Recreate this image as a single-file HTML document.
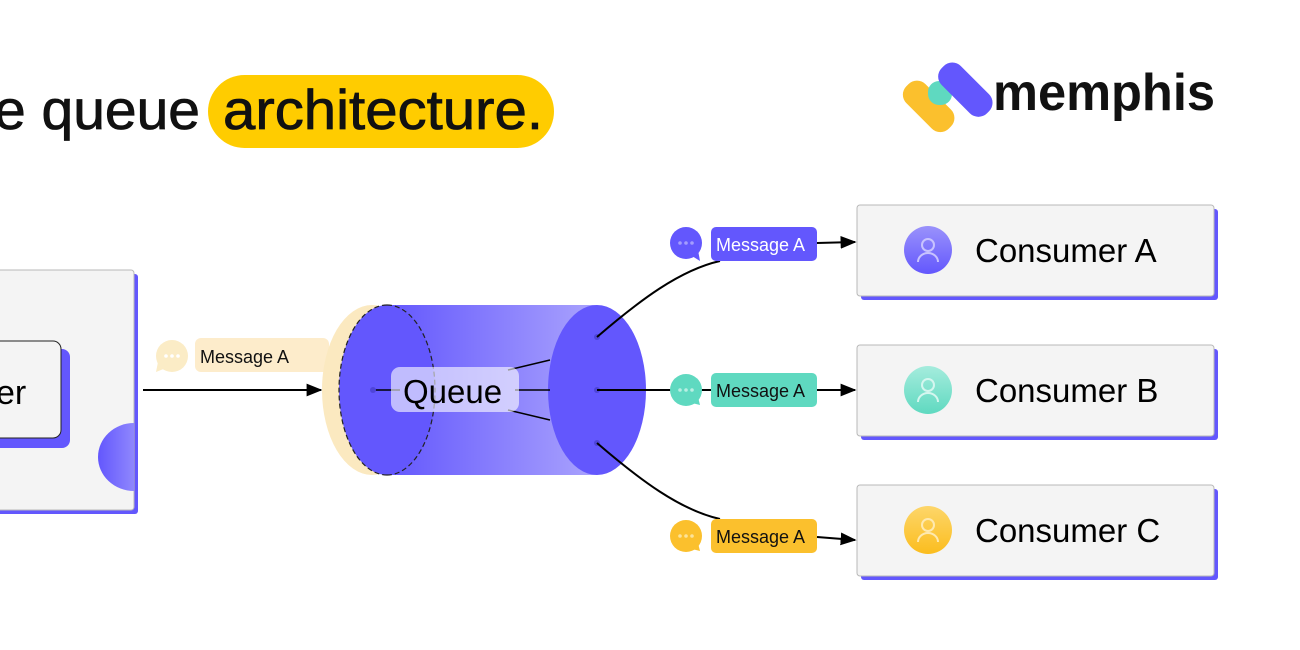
<!DOCTYPE html>
<html><head><meta charset="utf-8"><style>
html,body{margin:0;padding:0;background:#fff;}
svg{display:block;font-family:"Liberation Sans",sans-serif;}
</style></head><body>
<svg width="1300" height="650" viewBox="0 0 1300 650" xmlns="http://www.w3.org/2000/svg">
<defs>
<linearGradient id="body" x1="0" x2="1" y1="0" y2="0">
<stop offset="0" stop-color="#6357fd"/><stop offset="1" stop-color="#aaa3fd"/>
</linearGradient>
<linearGradient id="av" x1="0" x2="0" y1="0" y2="1">
<stop offset="0" stop-color="#9a92fb"/><stop offset="1" stop-color="#6357fd"/>
</linearGradient>
<linearGradient id="avb" x1="0" x2="0" y1="0" y2="1">
<stop offset="0" stop-color="#a5ecdd"/><stop offset="1" stop-color="#5fd9c0"/>
</linearGradient>
<linearGradient id="avc" x1="0" x2="0" y1="0" y2="1">
<stop offset="0" stop-color="#fdd66a"/><stop offset="1" stop-color="#fbbd1e"/>
</linearGradient>
<linearGradient id="half" x1="0" x2="1">
<stop offset="0" stop-color="#6357fd"/><stop offset="1" stop-color="#8f87fd"/>
</linearGradient>
<marker id="ar" viewBox="0 0 10 10" refX="9" refY="5" markerWidth="8" markerHeight="8" orient="auto"><path d="M0,1 L10,5 L0,9z" fill="#000"/></marker>
</defs>

<!-- title -->
<text x="-6" y="129" font-size="56" fill="#111" stroke="#111" stroke-width="0.8" textLength="206" lengthAdjust="spacingAndGlyphs">e queue</text>
<rect x="208" y="75" width="346" height="73" rx="36.5" fill="#ffcc00"/>
<text x="223" y="129" font-size="56" fill="#111" stroke="#111" stroke-width="0.8" textLength="320" lengthAdjust="spacingAndGlyphs">architecture.</text>

<!-- logo -->
<g>
<rect x="899" y="93" width="60" height="27" rx="12" fill="#fbc02d" transform="rotate(45 929 106)"/>
<rect x="928" y="81" width="24" height="24" rx="11" fill="#5fd9c0"/>
<rect x="933" y="76" width="64" height="27" rx="12" fill="#6357fd" transform="rotate(45 965 90)"/>
</g>
<text x="993" y="110" font-size="52" font-weight="bold" fill="#111" textLength="222" lengthAdjust="spacingAndGlyphs">memphis</text>

<!-- producer -->
<rect x="-10" y="274" width="148" height="240" rx="3" fill="#6357fd"/>
<rect x="-10" y="270" width="144" height="240" rx="3" fill="#f4f4f4" stroke="#b8b8b8"/>
<rect x="-10" y="349" width="80" height="99" rx="8" fill="#6357fd"/>
<rect x="-10" y="341" width="71" height="97" rx="8" fill="#f4f4f4" stroke="#222"/>
<text x="-4" y="404" font-size="34" fill="#000">er</text>
<path d="M134,423 A36,34 0 0 0 134,491 Z" fill="url(#half)"/>

<!-- input arrow -->
<line x1="143" y1="390" x2="321" y2="390" stroke="#000" stroke-width="2" marker-end="url(#ar)"/>
<circle cx="172" cy="356" r="16" fill="#fbecc6"/>
<path d="M158,362 L156,372 L166,368z" fill="#fbecc6"/>
<g fill="#fff"><circle cx="166" cy="356" r="1.8"/><circle cx="172" cy="356" r="1.8"/><circle cx="178" cy="356" r="1.8"/></g>
<rect x="195" y="338" width="134" height="34" rx="6" fill="#fdeccb"/>
<text x="200" y="363" font-size="18" fill="#111">Message A</text>

<!-- cylinder -->
<ellipse cx="372" cy="390" rx="50" ry="85" fill="#fbe9c0"/>
<rect x="387" y="305" width="210" height="170" fill="url(#body)"/>
<ellipse cx="387" cy="390" rx="48" ry="85" fill="#6357fd"/>
<path d="M387,305 A48,85 0 0 0 387,475" fill="none" stroke="#222" stroke-dasharray="5,3" stroke-width="1.2"/>
<path d="M387,305 A48,85 0 0 1 387,475" fill="none" stroke="#222" stroke-dasharray="5,3" stroke-width="1.2"/>
<ellipse cx="597" cy="390" rx="49" ry="85" fill="#6357fd"/>
<line x1="373" y1="390" x2="400" y2="390" stroke="#000" stroke-width="1.5"/>
<path d="M508,370 L550,360" stroke="#000" stroke-width="1.5"/>
<path d="M508,410 L550,420" stroke="#000" stroke-width="1.5"/>
<line x1="515" y1="390" x2="550" y2="390" stroke="#000" stroke-width="1.5"/>
<rect x="391" y="367" width="128" height="45" rx="9" fill="#fff" fill-opacity="0.6"/>
<text x="403" y="403" font-size="33" fill="#000">Queue</text>
<g fill="#4e44d8"><circle cx="373" cy="390" r="3"/><circle cx="597" cy="337" r="3"/><circle cx="597" cy="390" r="3"/><circle cx="597" cy="443" r="3"/></g>

<!-- connectors -->
<path d="M597,337 C640,300 680,270 720,261" fill="none" stroke="#000" stroke-width="2"/>
<line x1="597" y1="390" x2="711" y2="390" stroke="#000" stroke-width="2"/>
<path d="M597,443 C640,480 680,510 720,519" fill="none" stroke="#000" stroke-width="2"/>

<!-- message A (purple) -->
<circle cx="686" cy="243" r="16" fill="#6357fd"/><path d="M692,256 L700,261 L698,250z" fill="#6357fd"/>
<g fill="#a49dfd"><circle cx="680" cy="243" r="1.8"/><circle cx="686" cy="243" r="1.8"/><circle cx="692" cy="243" r="1.8"/></g>
<rect x="711" y="227" width="106" height="34" rx="5" fill="#6357fd"/>
<text x="716" y="251" font-size="18" fill="#fff">Message A</text>
<line x1="817" y1="243" x2="855" y2="242" stroke="#000" stroke-width="2" marker-end="url(#ar)"/>

<!-- message B (teal) -->
<circle cx="686" cy="390" r="16" fill="#5fd9c0"/><path d="M692,403 L700,405 L698,397z" fill="#5fd9c0"/>
<g fill="#b9efe3"><circle cx="680" cy="390" r="1.8"/><circle cx="686" cy="390" r="1.8"/><circle cx="692" cy="390" r="1.8"/></g>
<rect x="711" y="373" width="106" height="34" rx="5" fill="#5fd9c0"/>
<text x="716" y="397" font-size="18" fill="#111">Message A</text>
<line x1="817" y1="390" x2="855" y2="390" stroke="#000" stroke-width="2" marker-end="url(#ar)"/>

<!-- message C (yellow) -->
<circle cx="686" cy="536" r="16" fill="#fbc02d"/><path d="M692,549 L700,551 L698,543z" fill="#fbc02d"/>
<g fill="#fde39a"><circle cx="680" cy="536" r="1.8"/><circle cx="686" cy="536" r="1.8"/><circle cx="692" cy="536" r="1.8"/></g>
<rect x="711" y="519" width="106" height="34" rx="5" fill="#fbc02d"/>
<text x="716" y="543" font-size="18" fill="#111">Message A</text>
<line x1="817" y1="537" x2="855" y2="540" stroke="#000" stroke-width="2" marker-end="url(#ar)"/>

<!-- consumers -->
<g>
<rect x="861" y="209" width="357" height="91" rx="3" fill="#6357fd"/>
<rect x="857" y="205" width="357" height="91" rx="3" fill="#f4f4f4" stroke="#b8b8b8"/>
<circle cx="928" cy="250" r="24" fill="url(#av)"/>
<circle cx="928" cy="245" r="6" fill="none" stroke="#c8c3fe" stroke-width="2"/>
<path d="M918,262 A10,9 0 0 1 938,262" fill="none" stroke="#c8c3fe" stroke-width="2"/>
<text x="975" y="262" font-size="33" fill="#000">Consumer A</text>
</g>
<g>
<rect x="861" y="349" width="357" height="91" rx="3" fill="#6357fd"/>
<rect x="857" y="345" width="357" height="91" rx="3" fill="#f4f4f4" stroke="#b8b8b8"/>
<circle cx="928" cy="390" r="24" fill="url(#avb)"/>
<circle cx="928" cy="385" r="6" fill="none" stroke="#d5f6ef" stroke-width="2"/>
<path d="M918,402 A10,9 0 0 1 938,402" fill="none" stroke="#d5f6ef" stroke-width="2"/>
<text x="975" y="402" font-size="33" fill="#000">Consumer B</text>
</g>
<g>
<rect x="861" y="489" width="357" height="91" rx="3" fill="#6357fd"/>
<rect x="857" y="485" width="357" height="91" rx="3" fill="#f4f4f4" stroke="#b8b8b8"/>
<circle cx="928" cy="530" r="24" fill="url(#avc)"/>
<circle cx="928" cy="525" r="6" fill="none" stroke="#fee9b0" stroke-width="2"/>
<path d="M918,542 A10,9 0 0 1 938,542" fill="none" stroke="#fee9b0" stroke-width="2"/>
<text x="975" y="542" font-size="33" fill="#000">Consumer C</text>
</g>
</svg>
</body></html>
